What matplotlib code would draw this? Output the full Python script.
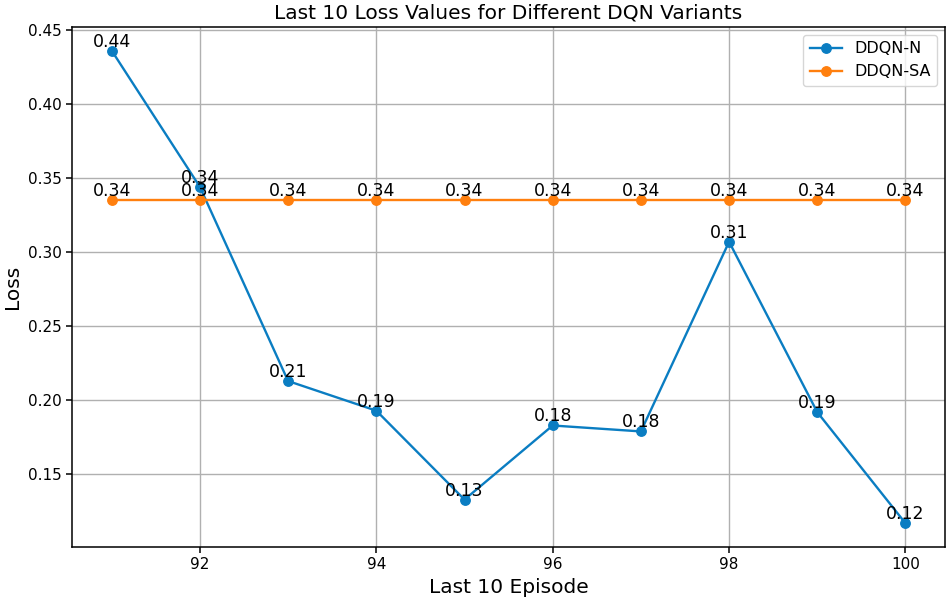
import matplotlib
matplotlib.use('Agg')
import matplotlib.pyplot as plt

episodes = [91, 92, 93, 94, 95, 96, 97, 98, 99, 100]
loss_ddqn_n = [0.436, 0.344, 0.213, 0.193, 0.133, 0.183, 0.179, 0.307, 0.192, 0.117]
loss_ddqn_sa = [0.335, 0.335, 0.335, 0.335, 0.335, 0.335, 0.335, 0.335, 0.335, 0.335]

series = {'DDQN-N': (loss_ddqn_n, '#0a7dc2'),
          'DDQN-SA': (loss_ddqn_sa, '#ff7f0e')}

plt.rcParams['axes.linewidth'] = 1.1
plt.rcParams['xtick.major.width'] = 1.1
plt.rcParams['ytick.major.width'] = 1.1
plt.rcParams['xtick.major.size'] = 4
plt.rcParams['ytick.major.size'] = 4

fig = plt.figure(figsize=(9.48, 6.01), dpi=100)
ax = fig.add_axes([0.076, 0.09, 0.921, 0.865])

for name, (values, color) in series.items():
    ax.plot(episodes, values, marker='o', color=color, label=name,
            linewidth=1.7, markersize=6.8)
    for x, y in zip(episodes, values):
        ax.text(x, y, f'{y:.2f}', ha='center', va='bottom', fontsize=12.5)

ax.set_title('Last 10 Loss Values for Different DQN Variants', fontsize=14.5)
ax.set_xlabel('Last 10 Episode', fontsize=14.5)
ax.set_ylabel('Loss', fontsize=14.5)
ax.tick_params(labelsize=11)
ax.legend(loc='upper right', fontsize=11.5)
ax.grid(True, linewidth=1.0)

fig.savefig('out.png', dpi=100)
